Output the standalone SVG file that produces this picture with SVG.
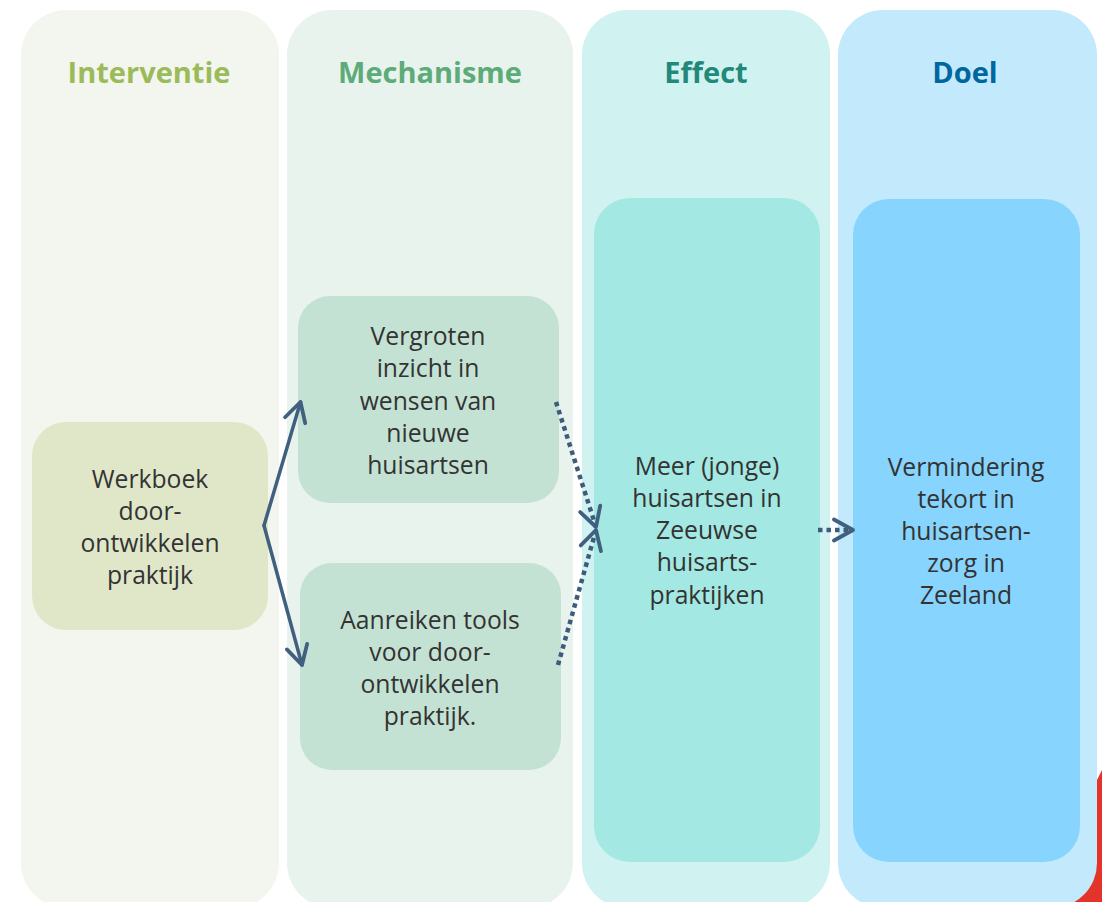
<svg xmlns="http://www.w3.org/2000/svg" width="1102" height="902" viewBox="0 0 1102 902">
  <style>
    .hdr { font-family: "Open Sans", "Noto Sans", sans-serif; font-weight: 700; font-size: 29px; text-anchor: middle; }
    .lbl { font-family: "Open Sans", "Noto Sans", sans-serif; font-size: 24.7px; fill: #333333; text-anchor: middle; }
    .solid { fill: none; stroke: #41607f; stroke-width: 3.5; stroke-linecap: round; stroke-linejoin: round; }
    .dots { fill: none; stroke: #3d5c7c; stroke-width: 4.5; stroke-dasharray: 4.5 4; }
    .head { fill: none; stroke: #41607f; stroke-width: 3.8; stroke-linecap: round; stroke-linejoin: round; }
  </style>
  <defs>
    <marker id="chev" viewBox="0 0 26 26" refX="23" refY="13" markerWidth="26" markerHeight="26" markerUnits="userSpaceOnUse" orient="auto">
      <path class="head" d="M4,2.5 L23,13 L4,23.5"/>
    </marker>
  </defs>

  <rect width="1102" height="902" fill="#ffffff"/>

  <!-- red corner shape behind the last column -->
  <path d="M1096,782 L1102,770 L1102,902 L1062,902 Z" fill="#e3342a"/>

  <!-- column backgrounds -->
  <g id="col-interventie">
    <rect x="21" y="10" width="258" height="898" rx="45" fill="#f3f6ee"/>
    <text class="hdr" x="149" y="83" fill="#9bbb59">Interventie</text>
  </g>
  <g id="col-mechanisme">
    <rect x="287" y="10" width="286" height="898" rx="45" fill="#e8f3ee"/>
    <text class="hdr" x="430" y="83" fill="#5dab78">Mechanisme</text>
  </g>
  <g id="col-effect">
    <rect x="582" y="10" width="248" height="898" rx="45" fill="#d0f3f1"/>
    <text class="hdr" x="706" y="83" fill="#22897a">Effect</text>
  </g>
  <g id="col-doel">
    <rect x="838" y="10" width="259" height="898" rx="45" fill="#c2e9fc"/>
    <text class="hdr" x="965" y="83" fill="#00679e">Doel</text>
  </g>

  <!-- nodes -->
  <g id="node-werkboek">
    <rect x="32" y="422" width="236" height="208" rx="34" fill="#e0e7c9"/>
    <text class="lbl" x="150" y="488">Werkboek</text>
    <text class="lbl" x="150" y="520">door-</text>
    <text class="lbl" x="150" y="552">ontwikkelen</text>
    <text class="lbl" x="150" y="584">praktijk</text>
  </g>
  <g id="node-inzicht">
    <rect x="298" y="296" width="261" height="207" rx="32" fill="#c3e2d3"/>
    <text class="lbl" x="428" y="345">Vergroten</text>
    <text class="lbl" x="428" y="377">inzicht in</text>
    <text class="lbl" x="428" y="409.5">wensen van</text>
    <text class="lbl" x="428" y="441.5">nieuwe</text>
    <text class="lbl" x="428" y="474">huisartsen</text>
  </g>
  <g id="node-tools">
    <rect x="300" y="563" width="261" height="207" rx="32" fill="#c3e2d3"/>
    <text class="lbl" x="430" y="628.5">Aanreiken tools</text>
    <text class="lbl" x="430" y="660.5">voor door-</text>
    <text class="lbl" x="430" y="693">ontwikkelen</text>
    <text class="lbl" x="430" y="725">praktijk.</text>
  </g>
  <g id="node-effect">
    <rect x="594" y="198" width="226" height="664" rx="36" fill="#a3e8e2"/>
    <text class="lbl" x="707" y="475">Meer (jonge)</text>
    <text class="lbl" x="707" y="507">huisartsen in</text>
    <text class="lbl" x="707" y="539">Zeeuwse</text>
    <text class="lbl" x="707" y="571">huisarts-</text>
    <text class="lbl" x="707" y="603.5">praktijken</text>
  </g>
  <g id="node-doel">
    <rect x="853" y="199" width="227" height="663" rx="36" fill="#87d4fe"/>
    <text class="lbl" x="966" y="476">Vermindering</text>
    <text class="lbl" x="966" y="508">tekort in</text>
    <text class="lbl" x="966" y="540">huisartsen-</text>
    <text class="lbl" x="966" y="572">zorg in</text>
    <text class="lbl" x="966" y="604">Zeeland</text>
  </g>

  <!-- connectors -->
  <g id="connectors">
    <path class="solid" d="M264,525.5 L300.5,402" marker-end="url(#chev)"/>
    <path class="solid" d="M264,525.5 L302,665" marker-end="url(#chev)"/>
    <path class="dots" d="M556,402 L596,527" marker-end="url(#chev)"/>
    <path class="dots" d="M558,665 L596,530" marker-end="url(#chev)"/>
    <path class="dots" d="M818,530 L853,530" marker-end="url(#chev)"/>
  </g>
</svg>
